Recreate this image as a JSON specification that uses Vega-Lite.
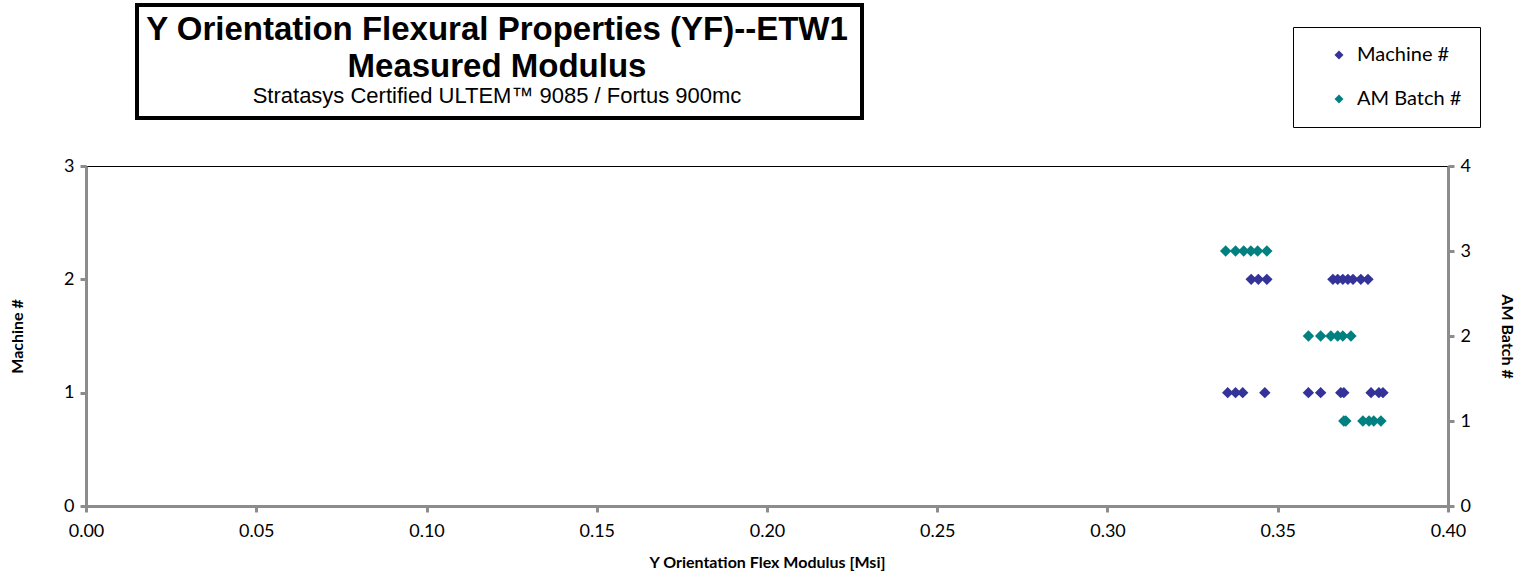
{
  "$schema": "https://vega.github.io/schema/vega-lite/v6.json",
  "autosize": {"type": "none"},
  "width": 1362,
  "height": 340,
  "padding": {"left": 86, "top": 166, "right": 78, "bottom": 75},
  "background": "white",
  "title": {
    "text": ["Y Orientation Flexural Properties (YF)--ETW1", "Measured Modulus"],
    "subtitle": "Stratasys Certified  ULTEM™ 9085 / Fortus 900mc",
    "anchor": "start",
    "align": "center",
    "frame": "group",
    "dx": 411,
    "offset": -104,
    "font": "Liberation Sans",
    "fontSize": 33,
    "fontWeight": "bold",
    "lineHeight": 37,
    "color": "black",
    "subtitleFont": "Liberation Sans",
    "subtitleFontSize": 22,
    "subtitleColor": "black",
    "subtitlePadding": 2
  },
  "datasets": {
    "machine": [
      {"modulus": 0.3422, "machine": 2}, {"modulus": 0.3443, "machine": 2}, {"modulus": 0.3468, "machine": 2},
      {"modulus": 0.3662, "machine": 2}, {"modulus": 0.3676, "machine": 2}, {"modulus": 0.3691, "machine": 2},
      {"modulus": 0.3706, "machine": 2}, {"modulus": 0.3721, "machine": 2}, {"modulus": 0.3744, "machine": 2},
      {"modulus": 0.3765, "machine": 2},
      {"modulus": 0.3353, "machine": 1}, {"modulus": 0.3376, "machine": 1}, {"modulus": 0.3397, "machine": 1},
      {"modulus": 0.3462, "machine": 1}, {"modulus": 0.3590, "machine": 1}, {"modulus": 0.3626, "machine": 1},
      {"modulus": 0.3685, "machine": 1}, {"modulus": 0.3694, "machine": 1}, {"modulus": 0.3774, "machine": 1},
      {"modulus": 0.3797, "machine": 1}, {"modulus": 0.3809, "machine": 1}
    ],
    "batch": [
      {"modulus": 0.3347, "batch": 3}, {"modulus": 0.3376, "batch": 3}, {"modulus": 0.3400, "batch": 3},
      {"modulus": 0.3421, "batch": 3}, {"modulus": 0.3441, "batch": 3}, {"modulus": 0.3468, "batch": 3},
      {"modulus": 0.3590, "batch": 2}, {"modulus": 0.3626, "batch": 2}, {"modulus": 0.3656, "batch": 2},
      {"modulus": 0.3676, "batch": 2}, {"modulus": 0.3691, "batch": 2}, {"modulus": 0.3715, "batch": 2},
      {"modulus": 0.3694, "batch": 1}, {"modulus": 0.3700, "batch": 1}, {"modulus": 0.3750, "batch": 1},
      {"modulus": 0.3768, "batch": 1}, {"modulus": 0.3782, "batch": 1}, {"modulus": 0.3803, "batch": 1}
    ]
  },
  "layer": [
    {
      "data": {"name": "machine"},
      "mark": {"type": "point", "shape": "diamond", "filled": true, "opacity": 1, "size": 130},
      "encoding": {
        "x": {"field": "modulus", "type": "quantitative", "scale": {"domain": [0, 0.4]},
              "axis": {"title": "Y Orientation Flex Modulus [Msi]", "values": [0, 0.05, 0.1, 0.15, 0.2, 0.25, 0.3, 0.35, 0.4], "format": ".2f", "labelFlush": false}},
        "y": {"field": "machine", "type": "quantitative", "scale": {"domain": [0, 3]},
              "axis": {"title": "Machine #", "orient": "left", "values": [0, 1, 2, 3], "format": "d", "titlePadding": 38}},
        "color": {"datum": "Machine #", "type": "nominal",
                  "scale": {"domain": ["Machine #", "AM Batch #"], "range": ["#333399", "#008080"]},
                  "legend": {"title": null, "orient": "none", "legendX": 1207, "legendY": -139,
                             "symbolType": "diamond", "symbolSize": 80, "labelFont": "Lato", "labelFontSize": 20,
                             "labelColor": "black", "strokeColor": "black", "padding": 18, "rowPadding": 24,
                             "labelOffset": 8, "symbolOffset": 18, "titlePadding": 0}}
      }
    },
    {
      "data": {"name": "batch"},
      "mark": {"type": "point", "shape": "diamond", "filled": true, "opacity": 1, "size": 130},
      "encoding": {
        "x": {"field": "modulus", "type": "quantitative"},
        "y": {"field": "batch", "type": "quantitative", "scale": {"domain": [0, 4]},
              "axis": {"title": "AM Batch #", "orient": "right", "values": [0, 1, 2, 3, 4], "format": "d", "titlePadding": 28}},
        "color": {"datum": "AM Batch #", "type": "nominal"}
      }
    },
    {
      "data": {"values": []},
      "mark": {"type": "point", "filled": false, "color": "black", "strokeWidth": 4},
      "encoding": {
        "opacity": {"datum": "box", "type": "nominal", "scale": {"domain": ["box"], "range": [1]},
                    "legend": {"title": null, "orient": "none", "legendX": 49, "legendY": -163.5,
                               "padding": 0, "symbolOffset": 0, "labelExpr": "''", "labelOffset": 0,
                               "symbolType": "M-1,-0.1559L1,-0.1559L1,0.1559L-1,0.1559Z",
                               "symbolSize": 525625, "symbolFillColor": "transparent",
                               "symbolStrokeColor": "black", "symbolStrokeWidth": 4,
                               "clipHeight": 118}}
      }
    }
  ],
  "resolve": {"scale": {"y": "independent"}},
  "config": {
    "view": {"stroke": "black", "strokeWidth": 1},
    "axis": {
      "grid": false,
      "domainColor": "#8c8c8c",
      "domainWidth": 3,
      "tickColor": "#8c8c8c",
      "tickWidth": 3,
      "tickSize": 6,
      "labelFont": "Lato",
      "labelFontSize": 18,
      "labelColor": "black",
      "labelPadding": 6,
      "titleFont": "Lato",
      "titleFontSize": 16,
      "titleFontWeight": "bold",
      "titleColor": "black"
    },
    "axisX": {"labelPadding": 10, "titlePadding": 14}
  }
}
